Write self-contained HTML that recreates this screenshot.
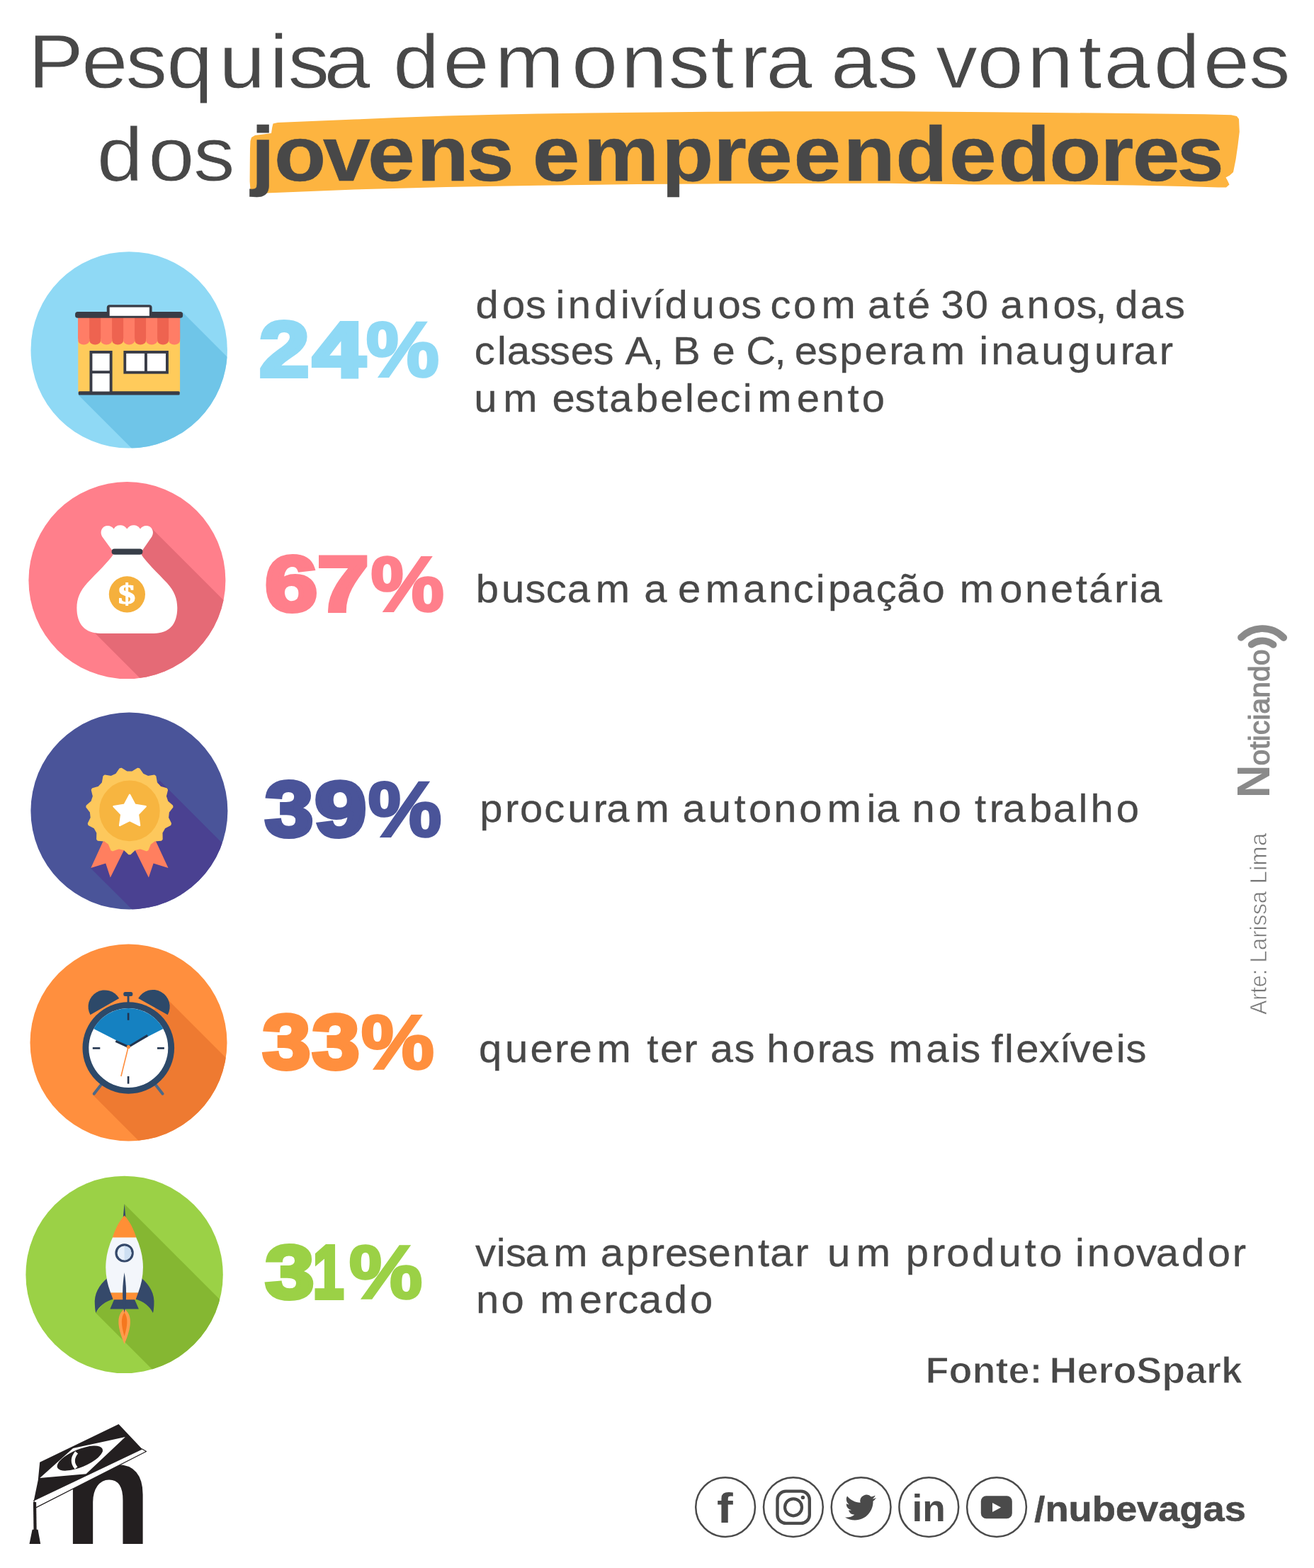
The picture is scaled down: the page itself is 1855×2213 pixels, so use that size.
<!DOCTYPE html>
<html lang="pt-BR"><head><meta charset="utf-8"><title>Pesquisa demonstra as vontades dos jovens empreendedores</title>
<style>
html,body{margin:0;padding:0;background:#fff}
svg{display:block;font-family:'Liberation Sans', sans-serif}
text{white-space:pre}
</style></head>
<body>
<svg width="1855" height="2213" viewBox="0 0 1855 2213">
<rect width="1855" height="2213" fill="#fff"/>

<polygon fill="#fdb440" points="353.5,199 355,194 360,191 372,189.5 383,188 384.2,180 385.5,174.6 392,173 440,171 500,168.6 560,166 630,163.4 700,161.8 760,160.6 830,159.4 900,158.7 1000,157.8 1100,157.3 1255,157.2 1400,158.2 1550,159.6 1700,161.2 1738,162.2 1746,164 1749,168 1749.8,186 1747.5,205 1744.6,225 1741,243 1736,247.5 1730.5,250.5 1733,255 1735.5,260.5 1731,264.4 1720,264.5 1680,263.2 1600,261.5 1500,260.3 1380,260.4 1255,258.8 1100,258.9 1000,259.4 900,260.1 760,261.7 630,263.9 500,267.6 420,270.8 376,272.6 360,272 353.5,268 352.6,256 352.8,230 353,210"/>
<g><text transform="matrix(1.0850 0 0 1 0 124.30)" x="36.72 106.22 163.59 216.83 285.07 350.67 374.7 421.77" font-size="108" font-weight="normal" fill="#484848" stroke="#fff" stroke-width="0.8" stroke-linejoin="miter" stroke-miterlimit="3">Pesquisa</text> <text transform="matrix(1.0850 0 0 1 0 124.30)" x="511.43 576.45 643.99 743.82 808.16 869.63 924.87 963.23 996.84" font-size="108" font-weight="normal" fill="#484848" stroke="#fff" stroke-width="0.8" stroke-linejoin="miter" stroke-miterlimit="3">demonstra</text> <text transform="matrix(1.0850 0 0 1 0 124.30)" x="1081.13 1141.15" font-size="108" font-weight="normal" fill="#484848" stroke="#fff" stroke-width="0.8" stroke-linejoin="miter" stroke-miterlimit="3">as</text> <text transform="matrix(1.0850 0 0 1 0 124.30)" x="1217.65 1271.34 1336.31 1403.53 1436.42 1501.2 1565.62 1624.84" font-size="108" font-weight="normal" fill="#484848" stroke="#fff" stroke-width="0.8" stroke-linejoin="miter" stroke-miterlimit="3">vontades</text></g>
<g><text transform="matrix(1.0850 0 0 1 0 254.60)" x="125.95 192.76 251.56" font-size="108" font-weight="normal" fill="#484848" stroke="#fff" stroke-width="0.8" stroke-linejoin="miter" stroke-miterlimit="3">dos</text> <text transform="matrix(1.0900 0 0 1 0 254.60)" x="325.28 354.94 418.44 476.13 539.97 604.61" font-size="110" font-weight="bold" fill="#484848" stroke="#484848" stroke-width="0.6" stroke-linejoin="miter" stroke-miterlimit="3">jovens</text> <text transform="matrix(1.0900 0 0 1 0 254.60)" x="689.8 755.84 856.88 924.01 965.03 1027.97 1092.12 1159.79 1229.48 1292.95 1359.07 1425.29 1466.73 1524.15" font-size="110" font-weight="bold" fill="#484848" stroke="#484848" stroke-width="0.6" stroke-linejoin="miter" stroke-miterlimit="3">empreendedores</text></g>
<clipPath id="c1"><circle cx="182.2" cy="493.9" r="138.7"/></clipPath>
<circle cx="182.2" cy="493.9" r="138.7" fill="#8fd9f5"/>
<polygon clip-path="url(#c1)" fill="#6fc5e8" points="258.1,441.0 578.1,761.0 430.7,877.5 110.7,557.5"/>
<g>
<rect x="110.3" y="470" width="143.8" height="83" fill="#ffcb5b"/>
<rect x="110.3" y="448" width="143.8" height="30" fill="#f5715b"/>
<path d="M110.30,448 h15.98 v32.5 a7.99,6 0 0 1 -15.98,0 z" fill="#ff7d66"/>
<path d="M126.28,448 h15.98 v32.5 a7.99,6 0 0 1 -15.98,0 z" fill="#ee6350"/>
<path d="M142.26,448 h15.98 v32.5 a7.99,6 0 0 1 -15.98,0 z" fill="#ff7d66"/>
<path d="M158.23,448 h15.98 v32.5 a7.99,6 0 0 1 -15.98,0 z" fill="#ee6350"/>
<path d="M174.21,448 h15.98 v32.5 a7.99,6 0 0 1 -15.98,0 z" fill="#ff7d66"/>
<path d="M190.19,448 h15.98 v32.5 a7.99,6 0 0 1 -15.98,0 z" fill="#ee6350"/>
<path d="M206.17,448 h15.98 v32.5 a7.99,6 0 0 1 -15.98,0 z" fill="#ff7d66"/>
<path d="M222.14,448 h15.98 v32.5 a7.99,6 0 0 1 -15.98,0 z" fill="#ee6350"/>
<path d="M238.12,448 h15.98 v32.5 a7.99,6 0 0 1 -15.98,0 z" fill="#ff7d66"/>
<rect x="106.1" y="439.9" width="152" height="8.9" rx="3.5" fill="#393c46"/>
<rect x="150.8" y="430.2" width="63.8" height="17" rx="4" fill="#393c46"/>
<rect x="154.7" y="433.6" width="56.2" height="12.2" fill="#fff"/>
<rect x="110.7" y="552.3" width="143" height="5.3" rx="1.5" fill="#393c46"/>
<rect x="126.5" y="495" width="32.1" height="58" fill="#393c46"/>
<rect x="130.4" y="498.9" width="24.3" height="24.3" fill="#fff"/>
<rect x="130.4" y="527.1" width="24.3" height="25.4" fill="#fff"/>
<rect x="174.4" y="495" width="63.5" height="32.6" fill="#393c46"/>
<rect x="178.2" y="498.9" width="25.8" height="24.8" fill="#fff"/>
<rect x="207.9" y="498.9" width="26.1" height="24.8" fill="#fff"/>
</g>
<text aria-label="24%" transform="matrix(1 0 0 1.0907 0 531.47)" font-size="100" font-weight="bold" fill="#8fd9f5" stroke="#8fd9f5" stroke-linejoin="miter" stroke-miterlimit="3"><tspan x="366.37" textLength="70.24" lengthAdjust="spacingAndGlyphs" stroke-width="5.5">2</tspan><tspan x="441.63" textLength="73.90" lengthAdjust="spacingAndGlyphs" stroke-width="5.5">4</tspan><tspan x="516.74" textLength="103.33" lengthAdjust="spacingAndGlyphs" stroke-width="3.2">%</tspan></text>
<g><text transform="matrix(1.0450 0 0 1 0 448.60)" x="642.65 678.44 709.95" font-size="55.5" font-weight="normal" fill="#484848" stroke="#484848" stroke-width="0.3" stroke-linejoin="miter" stroke-miterlimit="3">dos</text> <text transform="matrix(1.0450 0 0 1 0 448.60)" x="750.62 767.12 802.8 838.37 852.48 881.59 898 934.47 969.77 1001.26" font-size="55.5" font-weight="normal" fill="#484848" stroke="#484848" stroke-width="0.3" stroke-linejoin="miter" stroke-miterlimit="3">indivíduos</text> <text transform="matrix(1.0450 0 0 1 0 448.60)" x="1040.74 1071.71 1109.56" font-size="55.5" font-weight="normal" fill="#484848" stroke="#484848" stroke-width="0.3" stroke-linejoin="miter" stroke-miterlimit="3">com</text> <text transform="matrix(1.0450 0 0 1 0 448.60)" x="1172.15 1206.69 1225.8" font-size="55.5" font-weight="normal" fill="#484848" stroke="#484848" stroke-width="0.3" stroke-linejoin="miter" stroke-miterlimit="3">até</text> <text transform="matrix(1.0450 0 0 1 0 448.60)" x="1271.37 1304.17" font-size="55.5" font-weight="normal" fill="#484848" stroke="#484848" stroke-width="0.3" stroke-linejoin="miter" stroke-miterlimit="3">30</text> <text transform="matrix(1.0450 0 0 1 0 448.60)" x="1351.48 1387.03 1422.38 1454.02 1479.66" font-size="55.5" font-weight="normal" fill="#484848" stroke="#484848" stroke-width="0.3" stroke-linejoin="miter" stroke-miterlimit="3">anos,</text> <text transform="matrix(1.0450 0 0 1 0 448.60)" x="1506.35 1540.54 1573.3" font-size="55.5" font-weight="normal" fill="#484848" stroke="#484848" stroke-width="0.3" stroke-linejoin="miter" stroke-miterlimit="3">das</text></g>
<g><text transform="matrix(1.0450 0 0 1 0 514.40)" x="641.02 671.78 684.86 716.24 742.48 770.95 801.54" font-size="55.5" font-weight="normal" fill="#484848" stroke="#484848" stroke-width="0.3" stroke-linejoin="miter" stroke-miterlimit="3">classes</text> <text transform="matrix(1.0450 0 0 1 0 514.40)" x="844.53 881.07" font-size="55.5" font-weight="normal" fill="#484848" stroke="#484848" stroke-width="0.3" stroke-linejoin="miter" stroke-miterlimit="3">A,</text> <text transform="matrix(1.0450 0 0 1 0 514.40)" x="909.16" font-size="55.5" font-weight="normal" fill="#484848" stroke="#484848" stroke-width="0.3" stroke-linejoin="miter" stroke-miterlimit="3">B</text> <text transform="matrix(1.0450 0 0 1 0 514.40)" x="962.26" font-size="55.5" font-weight="normal" fill="#484848" stroke="#484848" stroke-width="0.3" stroke-linejoin="miter" stroke-miterlimit="3">e</text> <text transform="matrix(1.0450 0 0 1 0 514.40)" x="1007.98 1046.42" font-size="55.5" font-weight="normal" fill="#484848" stroke="#484848" stroke-width="0.3" stroke-linejoin="miter" stroke-miterlimit="3">C,</text> <text transform="matrix(1.0450 0 0 1 0 514.40)" x="1073.48 1104.09 1134.2 1167.9 1201.17 1218.95 1257.12" font-size="55.5" font-weight="normal" fill="#484848" stroke="#484848" stroke-width="0.3" stroke-linejoin="miter" stroke-miterlimit="3">esperam</text> <text transform="matrix(1.0450 0 0 1 0 514.40)" x="1322.84 1339.11 1371.75 1406.92 1442.41 1478.53 1513.61 1531.78 1566.32" font-size="55.5" font-weight="normal" fill="#484848" stroke="#484848" stroke-width="0.3" stroke-linejoin="miter" stroke-miterlimit="3">inaugurar</text></g>
<g><text transform="matrix(1.0450 0 0 1 0 580.90)" x="640.33 679.6" font-size="55.5" font-weight="normal" fill="#484848" stroke="#484848" stroke-width="0.3" stroke-linejoin="miter" stroke-miterlimit="3">um</text> <text transform="matrix(1.0450 0 0 1 0 580.90)" x="745.93 776.55 805.99 823.22 858.49 892.2 925.39 940.41 972.78 1003.57 1023.14 1076.39 1110.08 1145.05 1164.46" font-size="55.5" font-weight="normal" fill="#484848" stroke="#484848" stroke-width="0.3" stroke-linejoin="miter" stroke-miterlimit="3">estabelecimento</text></g>
<clipPath id="c2"><circle cx="179.4" cy="819.1" r="139"/></clipPath>
<circle cx="179.4" cy="819.1" r="139" fill="#ff7f8b"/>
<polygon clip-path="url(#c2)" fill="#e56a76" points="214.5,746.0 534.5,1066.0 453.0,1212.5 133.0,892.5 160.0,780.0"/>
<g>
<path d="M159.6,778.5 L144.3,757.5 C141.5,753 142,746.5 147,743.3 C151.5,740.7 157.5,741.8 160.6,746.5 C163.5,741.5 167.5,741.2 170,741.2 C173.5,741.2 177,743 179.3,746.5 C181.5,743 185,741.2 188.5,741.2 C192,741.2 195.5,742.5 198,746.5 C201,741.8 207,740.7 211.5,743.3 C216.5,746.5 217,753 214.3,757.5 L199.8,778.5 L199.8,783 C206,793 222,808 236,823 C246,834 250.3,845 250.3,858 C250.3,881 239,893.9 217,893.9 L142,893.9 C120,893.9 108.4,881 108.4,858 C108.4,845 113,834 123,823 C137,808 153,793 159.6,783 Z" fill="#fff"/>
<rect x="157.6" y="774.6" width="43.8" height="8.2" rx="4.1" fill="#363d48"/>
<circle cx="179.4" cy="838.8" r="25.6" fill="#f5b03d"/>
<text transform="matrix(1.2054 0 0 1.0000 167.09 852.30)" font-size="40" font-weight="bold" fill="#fff" stroke="#fff" stroke-width="1.2" stroke-linejoin="miter" stroke-miterlimit="3" font-family="Liberation Serif, serif">$</text>
</g>
<text aria-label="67%" transform="matrix(1 0 0 1.0947 0 862.17)" font-size="100" font-weight="bold" fill="#ff7f8b" stroke="#ff7f8b" stroke-linejoin="miter" stroke-miterlimit="3"><tspan x="374.27" textLength="73.91" lengthAdjust="spacingAndGlyphs" stroke-width="5.5">6</tspan><tspan x="447.95" textLength="72.46" lengthAdjust="spacingAndGlyphs" stroke-width="5.5">7</tspan><tspan x="523.54" textLength="103.53" lengthAdjust="spacingAndGlyphs" stroke-width="3.2">%</tspan></text>
<g><text transform="matrix(1.0450 0 0 1 0 849.50)" x="642.87 677.59 709.56 737.6 766.19 804.44" font-size="55.5" font-weight="normal" fill="#484848" stroke="#484848" stroke-width="0.3" stroke-linejoin="miter" stroke-miterlimit="3">buscam</text> <text transform="matrix(1.0450 0 0 1 0 849.50)" x="870.13" font-size="55.5" font-weight="normal" fill="#484848" stroke="#484848" stroke-width="0.3" stroke-linejoin="miter" stroke-miterlimit="3">a</text> <text transform="matrix(1.0450 0 0 1 0 849.50)" x="915.71 952.86 1003.95 1038.25 1071.61 1102.28 1118.78 1150.4 1183.39 1211.77 1245.5" font-size="55.5" font-weight="normal" fill="#484848" stroke="#484848" stroke-width="0.3" stroke-linejoin="miter" stroke-miterlimit="3">emancipação</text> <text transform="matrix(1.0450 0 0 1 0 849.50)" x="1296.42 1350.52 1384.76 1419.24 1453.38 1470.94 1505.39 1525.64 1539.04" font-size="55.5" font-weight="normal" fill="#484848" stroke="#484848" stroke-width="0.3" stroke-linejoin="miter" stroke-miterlimit="3">monetária</text></g>
<text aria-label="Noticiando" transform="matrix(0 -1.0125 1 0 1791.60 1126.26)" fill="#8a8a8a"><tspan x="0" font-size="64.2" font-weight="bold">N</tspan><tspan x="45.08" font-size="40.5" stroke="#8a8a8a" stroke-width="1.15">oticiando</tspan></text>
<g fill="none" stroke="#8a8a8a" stroke-width="9.8" stroke-linecap="round">
<path d="M1752.0,899.8 A42,42 0 0 1 1812.2,900.0"/>
<path d="M1766.7,909.7 A24.8,24.8 0 0 1 1797.6,909.9"/>
</g>
<g><text transform="matrix(0 -0.8963 1.0000 0 1787.80 1432.10)" font-size="34" font-weight="normal" fill="#777777" stroke="#fff" stroke-width="0.7">Arte:</text> <text transform="matrix(0 -0.9211 1.0000 0 1787.80 1358.66)" font-size="34" font-weight="normal" fill="#777777" stroke="#fff" stroke-width="0.7">Larissa</text> <text transform="matrix(0 -0.9745 1.0000 0 1787.80 1247.42)" font-size="34" font-weight="normal" fill="#777777" stroke="#fff" stroke-width="0.7">Lima</text></g>
<clipPath id="c3"><circle cx="182.4" cy="1144.5" r="139"/></clipPath>
<circle cx="182.4" cy="1144.5" r="139" fill="#4a5499"/>
<polygon clip-path="url(#c3)" fill="#4a4191" points="225.5,1101.8 545.5,1421.8 447.8,1544.9 127.8,1224.9"/>
<g>
<polygon fill="#ff7f5f" points="145.8,1186.7 175.2,1199.5 155.8,1238.6 149.2,1218.4 128.3,1225.0"/>
<polygon fill="#ff7f5f" points="219.8,1186.7 190.6,1199.5 209.9,1238.6 216.6,1218.4 237.5,1225.0"/>
<polygon points="184.0,1205.4 181.8,1205.4 175.2,1199.1 167.7,1197.5 159.1,1200.6 157.1,1199.7 153.6,1191.2 147.4,1186.7 138.3,1186.0 136.9,1184.4 137.1,1175.3 133.3,1168.6 125.2,1164.3 124.6,1162.2 128.5,1154.0 127.7,1146.3 122.1,1139.1 122.4,1137.0 129.3,1131.0 131.7,1123.7 129.5,1114.8 130.6,1113.0 139.4,1110.4 144.6,1104.7 146.2,1095.7 147.9,1094.4 157.0,1095.7 164.0,1092.5 169.2,1085.0 171.3,1084.5 179.0,1089.3 186.8,1089.3 194.5,1084.5 196.6,1085.0 201.8,1092.5 208.8,1095.7 217.9,1094.4 219.6,1095.7 221.2,1104.7 226.4,1110.4 235.2,1113.0 236.3,1114.8 234.1,1123.7 236.5,1131.0 243.4,1137.0 243.7,1139.1 238.1,1146.3 237.3,1154.0 241.2,1162.2 240.6,1164.3 232.5,1168.6 228.7,1175.3 228.9,1184.4 227.5,1186.0 218.4,1186.7 212.2,1191.2 208.7,1199.7 206.7,1200.6 198.1,1197.5 190.6,1199.1" fill="#fdc85c" stroke="#fdc85c" stroke-width="1.6" stroke-linejoin="round"/>
<circle cx="182.9" cy="1144.4" r="42.8" fill="#f7b540"/>
<polygon fill="#fff" stroke="#fff" stroke-width="2.4" stroke-linejoin="round" points="183.1,1121.8 190.4,1135.6 205.7,1138.2 194.9,1149.4 197.1,1164.9 183.1,1158.0 169.1,1164.9 171.3,1149.4 160.5,1138.2 175.8,1135.6"/>
</g>
<text aria-label="39%" transform="matrix(1 0 0 1.0850 0 1179.66)" font-size="100" font-weight="bold" fill="#4a5499" stroke="#4a5499" stroke-linejoin="miter" stroke-miterlimit="3"><tspan x="374.11" textLength="68.25" lengthAdjust="spacingAndGlyphs" stroke-width="5.5">3</tspan><tspan x="444.34" textLength="73.12" lengthAdjust="spacingAndGlyphs" stroke-width="5.5">9</tspan><tspan x="519.53" textLength="104.04" lengthAdjust="spacingAndGlyphs" stroke-width="3.2">%</tspan></text>
<g><text transform="matrix(1.0450 0 0 1 0 1160.00)" x="648 682.3 702.42 735.07 766.69 801.45 819.37 857.83" font-size="55.5" font-weight="normal" fill="#484848" stroke="#484848" stroke-width="0.3" stroke-linejoin="miter" stroke-miterlimit="3">procuram</text> <text transform="matrix(1.0450 0 0 1 0 1160.00)" x="922.05 956.74 991.9 1011.38 1045.25 1079.62 1117.23 1170.89 1184.04" font-size="55.5" font-weight="normal" fill="#484848" stroke="#484848" stroke-width="0.3" stroke-linejoin="miter" stroke-miterlimit="3">autonomia</text> <text transform="matrix(1.0450 0 0 1 0 1160.00)" x="1231.97 1267.71" font-size="55.5" font-weight="normal" fill="#484848" stroke="#484848" stroke-width="0.3" stroke-linejoin="miter" stroke-miterlimit="3">no</text> <text transform="matrix(1.0450 0 0 1 0 1160.00)" x="1316.72 1336.6 1354.7 1390.45 1422.67 1456.97 1473.16 1507.92" font-size="55.5" font-weight="normal" fill="#484848" stroke="#484848" stroke-width="0.3" stroke-linejoin="miter" stroke-miterlimit="3">trabalho</text></g>
<clipPath id="c4"><circle cx="181.5" cy="1471.5" r="139"/></clipPath>
<circle cx="181.5" cy="1471.5" r="139" fill="#ff8f3e"/>
<polygon clip-path="url(#c4)" fill="#ee7a31" points="231.1,1405.0 551.1,1725.0 450.8,1865.1 130.8,1545.1 181.3,1479.0"/>
<g>
<line x1="143.1" y1="1530.5" x2="132.7" y2="1543.7" stroke="#4c6988" stroke-width="4" stroke-linecap="round"/>
<line x1="219.2" y1="1530.5" x2="229.6" y2="1543.7" stroke="#4c6988" stroke-width="4" stroke-linecap="round"/>
<path d="M127.5,1432.2 A23.4,23.4 0 0 1 168.2,1409.1 Z" fill="#2d4969"/>
<path d="M236.7,1432.2 A23.4,23.4 0 0 0 195.2,1409.1 Z" fill="#2d4969"/>
<rect x="174.3" y="1400" width="13" height="6" rx="2.5" fill="#2d4969"/>
<rect x="179.6" y="1404" width="2.9" height="13" fill="#2d4969"/>
<circle cx="181.3" cy="1479.0" r="64.8" fill="#2d4969"/>
<circle cx="181.3" cy="1479.0" r="56" fill="#fff"/>
<path d="M181.3,1477.0 L132.3,1451.9 A56,56 0 0 1 230.3,1451.9 Z" fill="#1581c1"/>
<path d="M163.3,1469.4 L181.3,1477.5 L208.3,1461.4" fill="none" stroke="#22344e" stroke-width="3.2" stroke-linejoin="round"/>
<line x1="181.1" y1="1429.6" x2="181.1" y2="1439.8" stroke="#22344e" stroke-width="2.6"/>
<line x1="181.1" y1="1519.0" x2="181.1" y2="1529.6" stroke="#22344e" stroke-width="2.6"/>
<line x1="130.8" y1="1479.4" x2="141.3" y2="1479.4" stroke="#22344e" stroke-width="2.6"/>
<line x1="222.0" y1="1479.4" x2="231.9" y2="1479.4" stroke="#22344e" stroke-width="2.6"/>
<line x1="181.3" y1="1477.0" x2="170.9" y2="1519.0" stroke="#ff8f3e" stroke-width="1.6"/>
<circle cx="181.3" cy="1477.5" r="2.6" fill="#ff8f3e"/>
</g>
<text aria-label="33%" transform="matrix(1 0 0 1.0706 0 1507.52)" font-size="100" font-weight="bold" fill="#ff8f3e" stroke="#ff8f3e" stroke-linejoin="miter" stroke-miterlimit="3"><tspan x="370.71" textLength="67.55" lengthAdjust="spacingAndGlyphs" stroke-width="5.5">3</tspan><tspan x="440.70" textLength="66.74" lengthAdjust="spacingAndGlyphs" stroke-width="5.5">3</tspan><tspan x="509.74" textLength="103.22" lengthAdjust="spacingAndGlyphs" stroke-width="3.2">%</tspan></text>
<g><text transform="matrix(1.0450 0 0 1 0 1498.60)" x="646.82 682.2 716.22 749.38 768.99 806.2" font-size="55.5" font-weight="normal" fill="#484848" stroke="#484848" stroke-width="0.3" stroke-linejoin="miter" stroke-miterlimit="3">querem</text> <text transform="matrix(1.0450 0 0 1 0 1498.60)" x="874.05 891.83 923.64" font-size="55.5" font-weight="normal" fill="#484848" stroke="#484848" stroke-width="0.3" stroke-linejoin="miter" stroke-miterlimit="3">ter</text> <text transform="matrix(1.0450 0 0 1 0 1498.60)" x="959.51 991.83" font-size="55.5" font-weight="normal" fill="#484848" stroke="#484848" stroke-width="0.3" stroke-linejoin="miter" stroke-miterlimit="3">as</text> <text transform="matrix(1.0450 0 0 1 0 1498.60)" x="1035.63 1070.4 1104.18 1122.29 1154.11" font-size="55.5" font-weight="normal" fill="#484848" stroke="#484848" stroke-width="0.3" stroke-linejoin="miter" stroke-miterlimit="3">horas</text> <text transform="matrix(1.0450 0 0 1 0 1498.60)" x="1200.51 1250.97 1284.46 1296.86" font-size="55.5" font-weight="normal" fill="#484848" stroke="#484848" stroke-width="0.3" stroke-linejoin="miter" stroke-miterlimit="3">mais</text> <text transform="matrix(1.0450 0 0 1 0 1498.60)" x="1339.35 1357.01 1372.43 1403.52 1431.65 1445.55 1474.28 1507.85 1520.97" font-size="55.5" font-weight="normal" fill="#484848" stroke="#484848" stroke-width="0.3" stroke-linejoin="miter" stroke-miterlimit="3">flexíveis</text></g>
<clipPath id="c5"><circle cx="175.6" cy="1798.9" r="139.2"/></clipPath>
<circle cx="175.6" cy="1798.9" r="139.2" fill="#9bd146"/>
<polygon clip-path="url(#c5)" fill="#85b732" points="175.6,1699.3 495.6,2019.3 455.1,2172.9 135.1,1852.9 148.3,1836.7 175.6,1808.5"/>
<g>
<path d="M175.6,1847.3 C164.2,1856.1 165.0,1871.9 175.6,1897.0 C186.2,1871.9 187.1,1856.1 175.6,1847.3 Z" fill="#ff9c4c"/>
<path d="M175.6,1852.6 C170.3,1859.6 170.9,1870.2 175.6,1886.0 C180.4,1870.2 180.9,1859.6 175.6,1852.6 Z" fill="#f5771f"/>
<path d="M152.2,1803.2 C139.5,1813.8 132.5,1826.1 133.9,1842.0 C134.2,1847.3 134.6,1850.8 135.3,1852.9 C139.5,1843.8 148.3,1836.7 160.6,1833.2 Z" fill="#35496a"/>
<path d="M199.0,1803.2 C211.7,1813.8 218.8,1826.1 217.4,1842.0 C217.0,1847.3 216.7,1850.8 215.9,1852.9 C211.7,1843.8 202.9,1836.7 190.6,1833.2 Z" fill="#35496a"/>
<polygon points="161.5,1833.2 189.7,1833.2 195.9,1847.6 155.4,1847.6" fill="#35496a"/>
<polygon points="175.6,1699.0 177.5,1719.1 173.7,1719.1" fill="#35496a"/>
<path d="M159.2,1746.0 C146.5,1773.3 146.5,1799.7 156.2,1824.7 L195.0,1824.7 C204.7,1799.7 204.7,1773.3 192.0,1746.0 Z" fill="#f3f6fb"/>
<path d="M175.6,1715.5 C167.7,1724.0 162.0,1736.3 158.9,1746.5 L192.3,1746.5 C189.2,1736.3 183.5,1724.0 175.6,1715.5 Z" fill="#ff8f35"/>
<polygon points="156.2,1824.4 195.0,1824.4 191.5,1834.3 159.8,1834.3" fill="#ff8f35"/>
<circle cx="175.6" cy="1768.4" r="11.6" fill="#e7f0fb" stroke="#35496a" stroke-width="3.2"/>
<path d="M175.6,1758.4 a10,10 0 0 1 0,20 z" fill="#cddff2"/>
<path d="M175.6,1795.9 C172.6,1813.8 171.9,1835.0 175.6,1852.9 C179.3,1835.0 178.6,1813.8 175.6,1795.9 Z" fill="#35496a"/>
</g>
<text aria-label="31%" transform="matrix(1 0 0 1.0627 0 1832.25)" font-size="100" font-weight="bold" fill="#9bd146" stroke="#9bd146" stroke-linejoin="miter" stroke-miterlimit="3"><tspan x="374.52" textLength="68.86" lengthAdjust="spacingAndGlyphs" stroke-width="5.5">3</tspan><tspan x="441.85" textLength="43.74" lengthAdjust="spacingAndGlyphs" stroke-width="5.5">1</tspan><tspan x="492.83" textLength="103.63" lengthAdjust="spacingAndGlyphs" stroke-width="3.2">%</tspan></text>
<g><text transform="matrix(1.0450 0 0 1 0 1786.70)" x="642.07 670.53 683.23 709.67 747.65" font-size="55.5" font-weight="normal" fill="#484848" stroke="#484848" stroke-width="0.3" stroke-linejoin="miter" stroke-miterlimit="3">visam</text> <text transform="matrix(1.0450 0 0 1 0 1786.70)" x="811.16 845.71 879.27 898.48 928.52 956.41 989.42 1023.84 1040.56 1074.04" font-size="55.5" font-weight="normal" fill="#484848" stroke="#484848" stroke-width="0.3" stroke-linejoin="miter" stroke-miterlimit="3">apresentar</text> <text transform="matrix(1.0450 0 0 1 0 1786.70)" x="1117.61 1156.71" font-size="55.5" font-weight="normal" fill="#484848" stroke="#484848" stroke-width="0.3" stroke-linejoin="miter" stroke-miterlimit="3">um</text> <text transform="matrix(1.0450 0 0 1 0 1786.70)" x="1223.8 1258.33 1278.64 1312.81 1348.84 1384.31 1404.09" font-size="55.5" font-weight="normal" fill="#484848" stroke="#484848" stroke-width="0.3" stroke-linejoin="miter" stroke-miterlimit="3">produto</text> <text transform="matrix(1.0450 0 0 1 0 1786.70)" x="1452.58 1468.64 1503.22 1534.96 1561.52 1596.2 1631.32 1664.94" font-size="55.5" font-weight="normal" fill="#484848" stroke="#484848" stroke-width="0.3" stroke-linejoin="miter" stroke-miterlimit="3">inovador</text></g>
<g><text transform="matrix(1.0450 0 0 1 0 1853.10)" x="643.18 677.14" font-size="55.5" font-weight="normal" fill="#484848" stroke="#484848" stroke-width="0.3" stroke-linejoin="miter" stroke-miterlimit="3">no</text> <text transform="matrix(1.0450 0 0 1 0 1853.10)" x="729.49 782.52 815.66 834.78 863.18 897.43 932.09" font-size="55.5" font-weight="normal" fill="#484848" stroke="#484848" stroke-width="0.3" stroke-linejoin="miter" stroke-miterlimit="3">mercado</text></g>
<g><text transform="matrix(1.0486 0 0 1.0000 1306.61 1951.60)" font-size="51.5" font-weight="bold" fill="#484848" stroke="#fff" stroke-width="1" stroke-linejoin="miter" stroke-miterlimit="3">Fonte:</text> <text transform="matrix(1.0462 0 0 1.0000 1481.62 1951.60)" font-size="51.5" font-weight="bold" fill="#484848" stroke="#fff" stroke-width="1" stroke-linejoin="miter" stroke-miterlimit="3">HeroSpark</text></g>
<g>
<text transform="matrix(1.0309 0 0 1.0405 88.50 2178.75)" font-size="200" font-weight="bold" fill="#231f20">n</text>
<rect x="126" y="2080" width="9" height="14" fill="#231f20"/>
<polygon points="200.6,2045.0 206.5,2048.5 50.6,2127.9 47.8,2117.8" fill="#fff" stroke="#231f20" stroke-width="1.2" stroke-linejoin="round"/>
<polygon points="56.2,2063.8 167.5,2010.0 200.6,2045.0 47.8,2117.8 53.8,2088.8" fill="#231f20"/>
<polygon points="56.2,2086.0 103.1,2044.0 176.9,2028.1 121.5,2080.2" fill="#fff"/>
<ellipse cx="112.8" cy="2058.1" rx="34.5" ry="12.5" transform="rotate(-22.5 112.8 2058.1)" fill="#231f20"/>
<path d="M108.1,2049.8 Q98.8,2061.2 107.5,2071.9" fill="none" stroke="#fff" stroke-width="5"/>
<line x1="49.0" y1="2120.0" x2="49.6" y2="2160.0" stroke="#231f20" stroke-width="4.2"/>
<polygon points="45.6,2158.8 53.5,2158.8 57.2,2179.0 41.5,2179.0" fill="#231f20"/>
</g>
<circle cx="1024.1" cy="2127.1" r="41.9" fill="none" stroke="#4a4a4a" stroke-width="2.5"/>
<circle cx="1119.9" cy="2127.1" r="41.9" fill="none" stroke="#4a4a4a" stroke-width="2.5"/>
<circle cx="1215.6" cy="2127.1" r="41.9" fill="none" stroke="#4a4a4a" stroke-width="2.5"/>
<circle cx="1311.3" cy="2127.1" r="41.9" fill="none" stroke="#4a4a4a" stroke-width="2.5"/>
<circle cx="1407.0" cy="2127.1" r="41.9" fill="none" stroke="#4a4a4a" stroke-width="2.5"/>
<text transform="matrix(1.1368 0 0 1.0000 1012.06 2149.00)" font-size="60" font-weight="bold" fill="#4a4a4a">f</text>
<rect x="1097.5" y="2104.6" width="45.3" height="45.3" rx="12" fill="none" stroke="#4a4a4a" stroke-width="4.4"/>
<circle cx="1120" cy="2127.3" r="12" fill="none" stroke="#4a4a4a" stroke-width="4.2"/>
<circle cx="1133.4" cy="2113.4" r="2.7" fill="#4a4a4a"/>
<path transform="translate(1193 2105.6) scale(1.833)" fill="#4a4a4a" d="M23.953 4.57a10 10 0 01-2.825.775 4.958 4.958 0 002.163-2.723c-.951.555-2.005.959-3.127 1.184a4.92 4.92 0 00-8.384 4.482C7.69 8.095 4.067 6.13 1.64 3.162a4.822 4.822 0 00-.666 2.475c0 1.71.87 3.213 2.188 4.096a4.904 4.904 0 01-2.228-.616v.06a4.923 4.923 0 003.946 4.827 4.996 4.996 0 01-2.212.085 4.936 4.936 0 004.604 3.417 9.867 9.867 0 01-6.102 2.105c-.39 0-.779-.023-1.17-.067a13.995 13.995 0 007.557 2.209c9.053 0 13.998-7.496 13.998-13.985 0-.21 0-.42-.015-.63A9.935 9.935 0 0024 4.59z"/>
<text transform="matrix(0.8879 0 0 0.8805 1287.45 2146.70)" font-size="60" font-weight="bold" fill="#4a4a4a">in</text>
<rect x="1384.8" y="2111.2" width="44" height="32.1" rx="7.5" fill="#4a4a4a"/>
<polygon points="1401,2121.1 1401,2133.9 1413.2,2127.4" fill="#fff"/>
<text transform="matrix(1.0857 0 0 1.0000 1460.36 2147.30)" font-size="50" font-weight="bold" fill="#4a4a4a" stroke="#4a4a4a" stroke-width="0.6" stroke-linejoin="miter" stroke-miterlimit="3">/nubevagas</text>
</svg>
</body></html>
